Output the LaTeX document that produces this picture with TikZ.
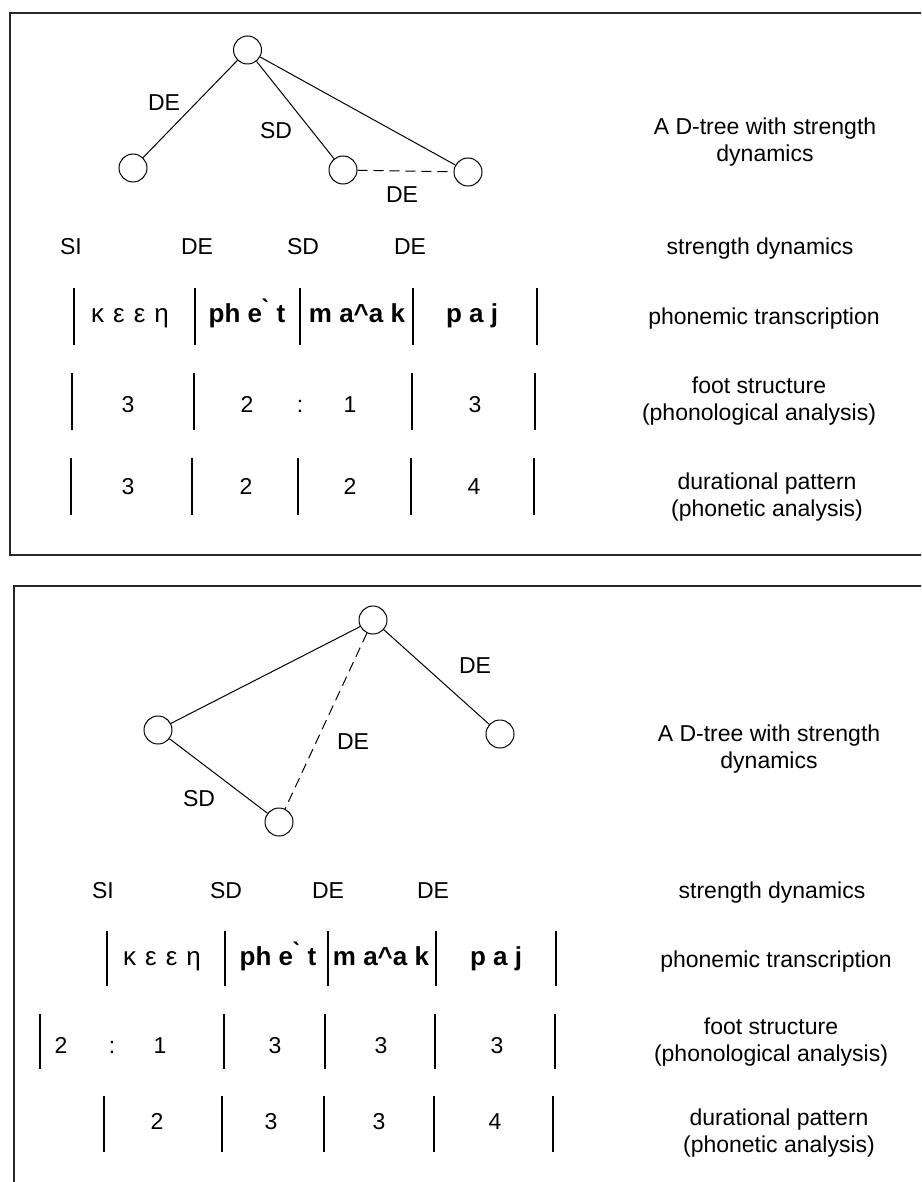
\documentclass[tikz,border=0pt]{standalone}
\usepackage{fontspec}
\setmainfont{Liberation Sans}
\begin{document}
\begin{tikzpicture}[x=1pt,y=-1pt,
  tn/.style={circle,draw,line width=1pt,minimum size=28pt,inner sep=0pt},
  edge/.style={line width=1pt},
  dedge/.style={line width=1pt,dash pattern=on 10pt off 6pt},
  frame/.style={line width=1.6pt,draw=black!85},
  bar/.style={line width=1.3pt},
  lbl/.style={font=\fontsize{23}{27}\selectfont,inner sep=0pt,text height=16.5pt,text depth=0pt},
  side/.style={font=\fontsize{23}{27}\selectfont,inner sep=0pt,align=center},
  ph/.style={font=\bfseries\fontsize{26}{28}\selectfont,inner sep=0pt,text height=18pt,text depth=5pt},
  gk/.style={font=\fontsize{26}{28}\selectfont,inner sep=0pt,text height=18pt,text depth=5pt}]
\useasboundingbox (0,0) rectangle (921,1182);
\clip (0,0) rectangle (921,1182);
% frames
\draw[frame] (960,13) -- (10,13) -- (10,555) -- (960,555);
\draw[frame] (960,586) -- (14,586) -- (14,1200);

% ---------- top tree ----------
\node[tn] (t0) at (247.5,50) {};
\node[tn] (t1) at (133,168) {};
\node[tn] (t2) at (343,170) {};
\node[tn] (t3) at (468,172) {};
\draw[edge] (t0) -- (t1);
\draw[edge] (t0) -- (t2);
\draw[edge] (t0) -- (t3);
\draw[dedge] (t2) -- (t3);
\node[lbl] (tl1) at (164,102) {DE};
\node[lbl] (tl2) at (276,130) {SD};
\node[lbl] (tl3) at (402,194) {DE};
\node[side] (tr1) at (765,142) {A D-tree with strength\\dynamics};

% strength dynamics
\node[lbl] (ts1) at (71,246) {SI};
\node[lbl] (ts2) at (197,246) {DE};
\node[lbl] (ts3) at (303,246) {SD};
\node[lbl] (ts4) at (410,246) {DE};
\node[lbl] (tr2) at (760,246) {strength dynamics};

% phonemic transcription
\foreach \x in {74,195,300,413,537} \draw[bar] (\x,288) -- (\x,345);
\node[gk] (tp1) at (130,316) {κ\hspace{9pt}ε\hspace{9pt}ε\hspace{9pt}η};
\node[ph] (tp2) at (247,316) {ph e\`{} t};
\node[ph] (tp3) at (357,316) {m a\^{}a k};
\node[ph] (tp4) at (472,316) {p a j};
\node[lbl] (tr3) at (764,316) {phonemic transcription};

% foot structure
\foreach \x in {72,194,412,535} \draw[bar] (\x,373) -- (\x,430);
\node[lbl] (tf1) at (128,404) {3};
\node[lbl] (tf2) at (247,404) {2};
\node[lbl] (tf3) at (300,404) {:};
\node[lbl] (tf4) at (350,404) {1};
\node[lbl] (tf5) at (475,404) {3};
\node[side] (tr4) at (759,401) {foot structure\\(phonological analysis)};

% durational pattern
\foreach \x in {71,192,298,411,534} \draw[bar] (\x,458) -- (\x,515);
\node[lbl] (td1) at (128,486) {3};
\node[lbl] (td2) at (246,486) {2};
\node[lbl] (td3) at (350,486) {2};
\node[lbl] (td4) at (474,486) {4};
\node[side] (tr5) at (767,497) {durational pattern\\(phonetic analysis)};

% ---------- bottom tree ----------
\node[tn] (b0) at (373,620) {};
\node[tn] (b1) at (158,730) {};
\node[tn] (b2) at (279,822) {};
\node[tn] (b3) at (500,734) {};
\draw[edge] (b0) -- (b1);
\draw[edge] (b1) -- (b2);
\draw[dedge] (b0) -- (b2);
\draw[edge] (b0) -- (b3);
\node[lbl] (bl1) at (475,665) {DE};
\node[lbl] (bl2) at (353,741) {DE};
\node[lbl] (bl3) at (199,798) {SD};
\node[side] (br1) at (769,749) {A D-tree with strength\\dynamics};

% strength dynamics
\node[lbl] (bs1) at (103,890) {SI};
\node[lbl] (bs2) at (226,890) {SD};
\node[lbl] (bs3) at (328,890) {DE};
\node[lbl] (bs4) at (433,890) {DE};
\node[lbl] (br2) at (772,890) {strength dynamics};

% phonemic transcription
\foreach \x in {107,225,328,436,556} \draw[bar] (\x,931) -- (\x,986);
\node[gk] (bp1) at (162,959) {κ\hspace{9pt}ε\hspace{9pt}ε\hspace{9pt}η};
\node[ph] (bp2) at (278,959) {ph e\`{} t};
\node[ph] (bp3) at (381,959) {m a\^{}a k};
\node[ph] (bp4) at (496,959) {p a j};
\node[lbl] (br3) at (776,959) {phonemic transcription};

% foot structure
\foreach \x in {40,224,325,435,555} \draw[bar] (\x,1014) -- (\x,1069);
\node[lbl] (bf1) at (61,1045) {2};
\node[lbl] (bf2) at (112,1045) {:};
\node[lbl] (bf3) at (160,1045) {1};
\node[lbl] (bf4) at (275,1045) {3};
\node[lbl] (bf5) at (381,1045) {3};
\node[lbl] (bf6) at (497,1045) {3};
\node[side] (br4) at (771,1042) {foot structure\\(phonological analysis)};

% durational pattern
\foreach \x in {104,222,324,434,553} \draw[bar] (\x,1096) -- (\x,1152);
\node[lbl] (bd1) at (157,1121) {2};
\node[lbl] (bd2) at (271,1121) {3};
\node[lbl] (bd3) at (379,1121) {3};
\node[lbl] (bd4) at (495,1121) {4};
\node[side] (br5) at (779,1133) {durational pattern\\(phonetic analysis)};
\end{tikzpicture}
\end{document}
